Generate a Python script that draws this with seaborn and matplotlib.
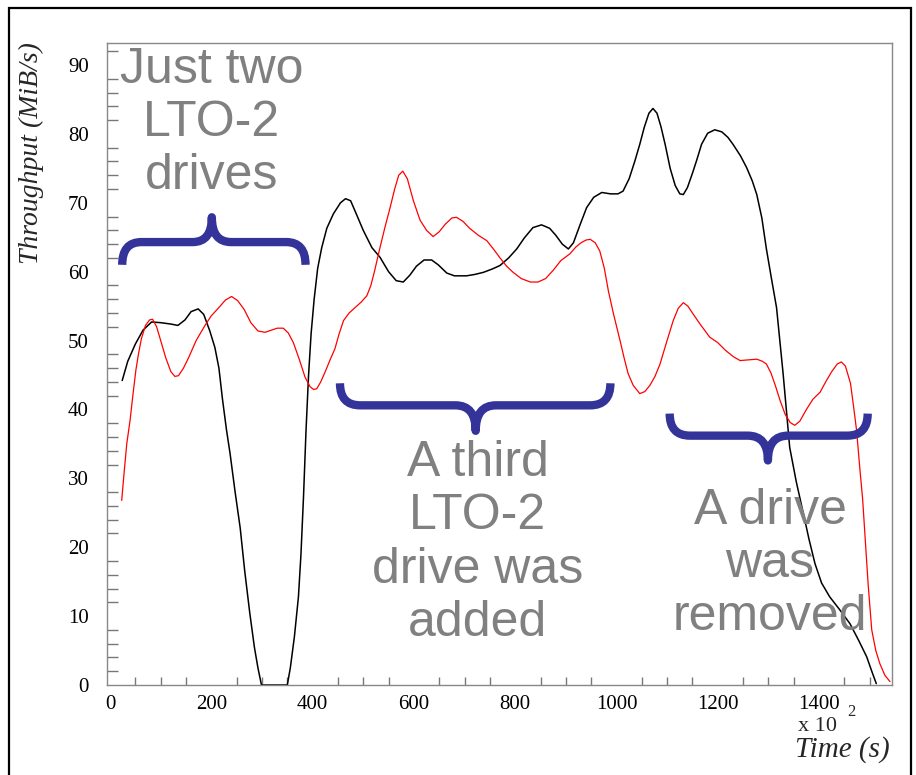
import numpy as np
import pandas as pd
import matplotlib
matplotlib.use("Agg")
import matplotlib.pyplot as plt
import seaborn as sns
from matplotlib.path import Path
from matplotlib.patches import PathPatch, Rectangle
from matplotlib.ticker import MultipleLocator

# ---- data (time in units of 100 s, throughput MiB/s) ----
black_x = [24, 35, 50, 65, 82, 100, 120, 134, 148, 160, 174, 185, 197, 207, 215, 222, 230, 237,
           247, 257, 266, 276, 285, 292, 299, 350, 356, 364, 372, 377, 382, 387, 392, 397, 403,
           410, 418, 428, 441, 455, 465, 475, 485, 500, 517, 533, 550, 565, 579, 592, 605, 620,
           635, 648, 665, 680, 704, 720, 737, 755, 770, 787, 803, 818, 835, 852, 868, 880, 893,
           905, 915, 928, 941, 955, 971, 988, 1003, 1013, 1025, 1036, 1046, 1055, 1064, 1072,
           1080, 1088, 1096, 1106, 1116, 1125, 1132, 1140, 1150, 1158, 1168, 1180, 1194, 1208,
           1220, 1230, 1245, 1257, 1268, 1277, 1287, 1296, 1306, 1316, 1329, 1342, 1355, 1369,
           1380, 1392, 1405, 1421, 1440, 1461, 1478, 1494, 1505, 1513]
black_y = [44.2, 47.0, 49.5, 51.5, 52.7, 52.6, 52.4, 52.2, 53.0, 54.2, 54.6, 53.8, 51.4, 49.0, 46.0, 41.5, 37.0, 33.6,
           28.0, 22.8, 16.5, 10.4, 5.5, 2.5, 0.0, 0.0, 2.5, 7.0, 12.8, 19.0, 27.3, 37.0, 45.0, 51.0, 56.0,
           60.5, 63.5, 66.3, 68.4, 70.0, 70.6, 70.3, 68.6, 66.0, 63.5, 62.1, 60.0, 58.7, 58.5, 59.5, 60.8, 61.7,
           61.7, 61.0, 59.8, 59.4, 59.4, 59.6, 59.9, 60.4, 60.9, 62.0, 63.3, 64.9, 66.4, 66.8, 66.3, 65.3, 64.0,
           63.3, 64.2, 66.8, 69.3, 70.8, 71.5, 71.3, 71.3, 71.7, 73.5, 76.0, 78.5, 81.0, 83.0, 83.7,
           83.0, 81.0, 78.5, 75.0, 72.5, 71.3, 71.2, 72.2, 74.3, 76.1, 78.5, 80.1, 80.6, 80.3,
           79.5, 78.5, 76.8, 75.1, 73.2, 71.2, 67.8, 63.3, 59.0, 54.8, 45.2, 34.5, 29.5, 24.9,
           21.2, 17.6, 14.8, 12.8, 11.0, 8.9, 6.5, 4.1, 1.8, 0.2]

red_x = [23, 28, 33, 39.5, 45, 51, 56, 62, 70, 78, 84, 92, 100, 110, 120, 128, 135, 145, 155, 170,
         187.5, 200, 215, 228, 240, 252, 265, 278, 292, 306, 318, 330, 342, 352, 362, 374, 385, 395,
         402, 408, 416, 425, 435, 444, 452, 461, 472, 484, 496, 507, 515, 522, 533, 543, 553, 562,
         570, 578, 587, 599, 612, 625, 638, 650, 662, 675, 684, 697, 710, 727, 744, 758, 770, 783,
         796, 812, 830, 845, 860, 875, 890, 908, 920, 930, 940, 948, 958, 967, 976, 984, 994, 1007,
         1015, 1023, 1033, 1046, 1056, 1066, 1076, 1086, 1099, 1112, 1122, 1132, 1141, 1150, 1165,
         1184, 1200, 1215, 1230, 1244, 1260, 1277, 1288, 1296, 1305, 1314, 1323, 1333, 1343, 1352,
         1362, 1375, 1388, 1402, 1413, 1425, 1436, 1444, 1452, 1462, 1468, 1474, 1481, 1486, 1490,
         1497, 1504, 1512, 1520, 1530, 1540]
red_y = [26.8, 31.0, 35.0, 38.4, 42.0, 45.7, 48.0, 50.3, 52.2, 53.0, 53.1, 52.0, 50.0, 47.5, 45.5, 44.8, 44.9, 46.0, 47.5, 50.0,
         52.2, 53.6, 54.8, 55.9, 56.4, 55.8, 54.5, 52.6, 51.4, 51.2, 51.5, 51.8, 51.8, 51.1, 49.7, 47.2, 44.7, 43.3,
         42.9, 43.0, 44.0, 45.5, 47.3, 48.8, 50.9, 52.9, 54.0, 54.8, 55.6, 56.5, 58.0, 60.0, 63.5, 66.5, 69.3, 72.0,
         74.0, 74.6, 73.5, 70.3, 67.5, 66.0, 65.1, 65.8, 66.9, 67.8, 67.9, 67.3, 66.3, 65.3, 64.5, 63.2, 62.0, 60.8,
         59.9, 59.0, 58.5, 58.5, 59.0, 60.2, 61.6, 62.6, 63.6, 64.2, 64.6, 64.7, 64.2, 63.0, 60.5, 57.2, 53.9, 50.0,
         47.5, 45.2, 43.5, 42.3, 42.6, 43.5, 44.8, 46.6, 49.8, 52.9, 54.7, 55.5, 55.0, 54.0, 52.4,
         50.5, 49.7, 48.6, 47.7, 47.1, 47.2, 47.3, 47.0, 46.6, 45.3, 43.4, 41.3, 39.3, 38.1, 37.7,
         38.3, 40.0, 41.5, 42.5, 44.0, 45.5, 46.6, 46.9, 46.3, 43.8, 40.5, 37.0, 31.0, 27.0, 22.5,
         14.5, 8.0, 5.0, 3.1, 1.4, 0.5]

x_ticks = [0, 200, 400, 600, 800, 1000, 1200, 1400]
y_ticks = [0, 10, 20, 30, 40, 50, 60, 70, 80, 90]

labels = ["Just two\nLTO-2\ndrives", "A third\nLTO-2\ndrive was\nadded", "A drive\nwas\nremoved"]

sns.set_style("white")
plt.rcParams['font.family'] = ['Liberation Serif', 'DejaVu Serif']

fig = plt.figure(figsize=(9.16, 7.75), dpi=100)
ax = fig.add_axes([107/916, 1-685/775, (892-107)/916, (685-43)/775])

black_df = pd.DataFrame({"t": black_x, "v": black_y})
red_df = pd.DataFrame({"t": red_x, "v": red_y})
sns.lineplot(data=black_df, x="t", y="v", color="black", lw=1.1, ax=ax, sort=False, estimator=None)
sns.lineplot(data=red_df, x="t", y="v", color="red", lw=0.9, ax=ax, sort=False, estimator=None)

ax.set_xlim(-6, 1544)
ax.set_ylim(0, 93.2)
ax.set_xticks(x_ticks)
ax.set_yticks(y_ticks)
ax.xaxis.set_minor_locator(MultipleLocator(50))
ax.yaxis.set_minor_locator(MultipleLocator(2))
ax.set_xlabel("")
ax.set_ylabel("")
ax.tick_params(axis="both", which="major", direction="in", color="#777777", width=1,
               labelsize=15, labelcolor="black")
ax.tick_params(axis="y", which="major", length=15, pad=13)
ax.tick_params(axis="x", which="major", length=12, pad=7)
ax.tick_params(axis="y", which="minor", direction="in", length=8, color="#777777", width=1, left=True)
ax.tick_params(axis="x", which="minor", direction="in", length=6, color="#777777", width=1, bottom=True)
for s in ax.spines.values():
    s.set_color("#888888")
    s.set_linewidth(1.0)

# ---- text annotations ----
txt_kw = dict(color="#808080", fontsize=36, ha="center", va="center",
              family=["Liberation Sans", "DejaVu Sans"], linespacing=1.2)
ax.text(201, 81.6, labels[0], **txt_kw)
ax.text(726, 20.6, labels[1], **txt_kw)
ax.text(1303, 17.6, labels[2], **txt_kw)

# ---- braces ----
def brace(ax, x0, x1, xc, ybase, ytip, ycusp, rx, color="#333399"):
    verts = [(x0, ytip), (x0, ybase), (x0 + rx, ybase),
             (xc - rx, ybase), (xc, ybase), (xc, ycusp),
             (xc, ybase), (xc + rx, ybase),
             (x1 - rx, ybase), (x1, ybase), (x1, ytip)]
    codes = [Path.MOVETO, Path.CURVE3, Path.CURVE3,
             Path.LINETO, Path.CURVE3, Path.CURVE3,
             Path.CURVE3, Path.CURVE3,
             Path.LINETO, Path.CURVE3, Path.CURVE3]
    p = PathPatch(Path(verts, codes), fill=False, edgecolor=color, lw=6,
                  capstyle="butt", joinstyle="round", zorder=5)
    ax.add_patch(p)

brace(ax, 24, 386, 201, 64.3, 61.0, 67.9, 38)
brace(ax, 454, 988, 722, 40.6, 43.8, 36.9, 40)
brace(ax, 1105, 1496, 1299, 36.2, 39.4, 32.6, 40)

# ---- axis titles (ROOT style) ----
fig.text(31/916, 1-42/775, "Throughput (MiB/s)", rotation=90, ha="center", va="top",
         fontsize=20, style="italic", family=["Liberation Serif", "DejaVu Serif"])
fig.text(890/916, 1-757/775, "Time (s)", ha="right", va="baseline",
         fontsize=21, style="italic", family=["Liberation Serif", "DejaVu Serif"])
fig.text(798/916, 1-731/775, "x 10", ha="left", va="baseline", fontsize=16,
         family=["Liberation Serif", "DejaVu Serif"])
fig.text(847/916, 1-716/775, "2", ha="left", va="baseline", fontsize=12,
         family=["Liberation Serif", "DejaVu Serif"])

# outer frame
fig.patches.append(Rectangle((8.5/916, -0.02), (911-8.5)/916, 1.02 - 7.5/775,
                             transform=fig.transFigure, fill=False, edgecolor="black",
                             lw=1.6, zorder=10))

fig.savefig("out.png", dpi=100)
